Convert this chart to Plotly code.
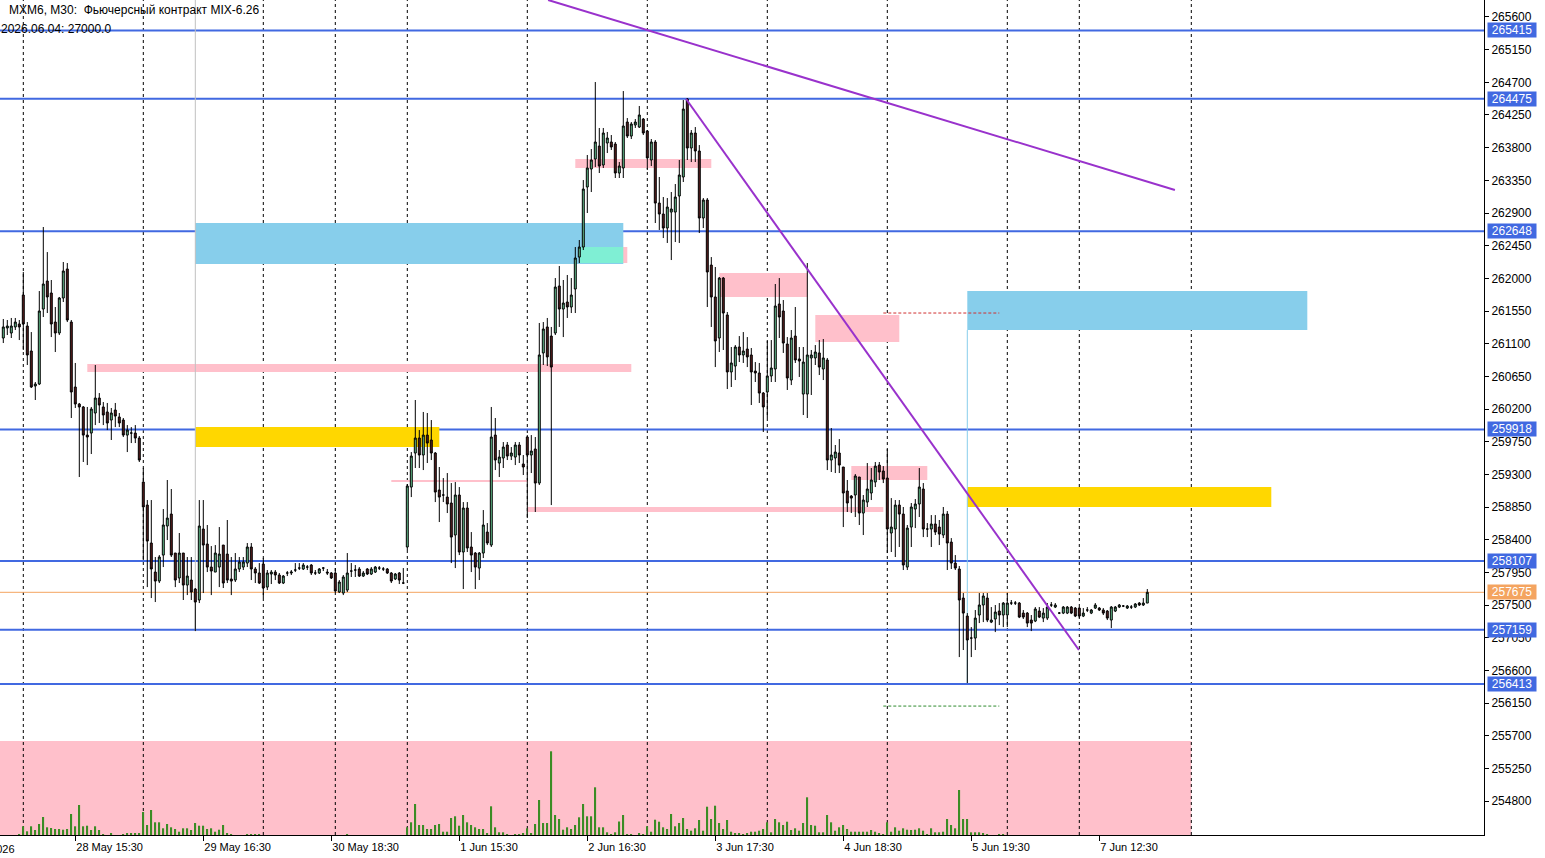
import plotly.graph_objects as go

# ---------------- data (MXM6, M30) ----------------
opens = [261178,261316,261247,261330,261371,261770,261343,260999,260517,260544,
261577,261963,261798,261398,261247,261729,262129,261398,260503,260269,
260228,259841,259869,260145,260351,260228,260159,260048,260186,260090,
260048,259841,259869,259869,259800,259194,258877,258354,257954,257830,
258188,258588,258753,258216,257872,258216,257775,257844,257720,257569,
258547,258340,258023,257954,258023,258326,258202,257858,257844,257996,
258023,258078,258299,257996,257941,258064,257747,257927,257954,257913,
257803,257941,257941,257982,258009,257996,258023,258051,257941,257941,
258009,257954,257941,257941,257679,257665,257706,257968,257982,257996,
257899,257996,257927,257954,258009,257996,257996,257941,257858,257941,
257803,258299,259125,259594,259800,259566,259841,259773,259594,259084,
259015,258987,258905,258464,259015,258230,258836,258299,258216,258009,
258216,258505,258326,259841,259456,259525,259704,259552,259538,259704,
259442,259814,259566,259649,259180,260972,261330,261205,261247,261894,
261577,261674,261605,261853,262293,262431,263258,263506,263644,263822,
263561,263864,263878,263850,263451,263520,264153,263960,264112,264084,
264194,264029,263630,263878,263037,262886,262693,262913,262913,263134,
263396,264470,263795,264002,263754,262831,263079,262183,261743,261178,
262004,261495,260710,260792,261054,260944,261026,260944,260723,260696,
260420,260434,260655,260751,261646,261550,261095,260599,261205,260889,
260406,260406,260903,260903,260972,260751,260875,259497,259525,259594,
259401,259070,259001,259015,259263,258767,258918,259043,259194,259428,
259346,259249,258492,258547,258877,258753,258023,258574,258822,258891,
259098,258547,258547,258616,258574,258464,258753,258367,258078,257996,
257596,257348,257045,257045,257362,257500,257596,257265,257307,257417,
257362,257362,257527,257527,257527,257389,257389,257293,257279,257417,
257320,257320,257500,257472,257389,257389,257389,257472,257458,257458,
257348,257431,257389,257458,257458,257431,257417,257293,257417,257472,
257486,257458,257472,257472,257527,257500,257527]

highs = [261440,261426,261454,261454,261426,262087,261398,261260,260572,261825,
262707,262362,261977,261605,261743,262225,262211,261426,260834,260283,
260241,260228,260228,260806,260420,260296,260283,260214,260283,260145,
260076,259979,259951,259979,259828,259387,258946,258946,258161,258188,
258822,259222,259098,258216,258492,258216,258161,258161,257734,258946,
258946,258602,258312,258326,258574,258326,258671,258161,258216,258161,
258161,258354,258354,258023,258078,258147,257982,257982,257982,257941,
257913,257968,257982,258078,258078,258078,258051,258064,257982,258009,
258023,257996,257954,258009,257844,257913,258216,258078,258051,258023,
257968,258009,258023,258037,258037,258023,258009,257954,257941,257954,
258009,259167,259607,260324,259910,260159,260145,260048,259607,259401,
259249,259318,259180,259194,259125,258918,258918,258505,258230,258230,
258808,258629,260228,260076,259635,259745,259745,259676,259745,259745,
259566,259841,259841,259814,261385,261398,261454,261330,262004,262170,
261977,262046,262004,262431,262528,263354,263699,263781,264704,264071,
264071,264016,263974,263878,263602,264580,264208,264153,264194,264374,
264208,264043,263919,263905,263396,263120,263106,263189,263299,263630,
264456,264484,264043,264084,263836,263106,263106,262293,262156,262018,
262018,261536,261054,261081,261205,261260,261191,261040,260847,260834,
260434,261137,261150,261922,262004,261701,261191,261288,261605,261054,
261054,262211,261013,261081,261150,261164,260903,259938,259704,259786,
259401,259222,259015,259304,259263,259015,259456,259387,259470,259470,
259414,259649,258973,258946,258946,258850,258602,258905,258960,259387,
259180,258629,258739,258739,258671,258850,258794,258422,258188,258037,
257665,257389,257196,257431,257665,257665,257665,257472,257500,257527,
257541,257665,257569,257555,257541,257431,257403,257362,257472,257472,
257458,257527,257541,257527,257403,257486,257486,257486,257472,257472,
257458,257472,257445,257527,257472,257458,257431,257486,257486,257514,
257500,257500,257500,257527,257541,257596,257720]

lows = [261109,261219,261178,261288,261150,261013,260806,260489,260324,260530,
261467,261522,261191,260985,261219,261674,261398,260076,260214,259263,
259470,259428,259580,259979,260007,259979,259910,259773,259951,259951,
259814,259607,259731,259731,259470,258120,257747,257596,257541,257803,
258023,258395,258161,257747,257803,257569,257637,257569,257141,257527,
257665,257954,257637,257954,257747,257734,257803,257637,257817,257954,
257982,258023,257844,257803,257789,257596,257706,257789,257844,257789,
257789,257899,257913,257954,257982,257982,257982,257913,257913,257927,
257968,257913,257858,257665,257665,257637,257679,257886,257886,257886,
257886,257913,257913,257941,257982,257968,257927,257803,257844,257789,
257789,258257,258987,259387,259387,259359,259456,259497,258918,258643,
258918,258767,258078,258009,258188,257720,258230,257954,257720,257844,
258147,258326,258299,259359,259263,259387,259497,259497,259428,259456,
259291,258698,259318,258781,259153,260806,260792,258877,261219,261330,
261191,261454,261522,261522,262211,262390,262900,263189,263534,263451,
263520,263726,263768,263382,263382,263382,263933,263919,264071,264071,
263974,263492,263547,262762,262666,262555,262487,262252,262500,262487,
263327,263630,263602,263602,262624,262693,261605,261330,260778,260985,
261013,260475,260503,260599,260847,260834,260778,260255,260572,260283,
259883,260076,260572,260572,261178,260972,260462,260530,260834,260641,
260117,260076,260393,260806,260668,260599,259359,259332,259318,259318,
258574,258781,258767,258712,258602,258464,258850,258946,259125,259222,
259180,258216,258230,258161,258299,257982,257982,258299,258560,258712,
258436,258436,258299,258464,258326,258422,257982,257996,257982,256783,
256880,256425,256783,256880,257251,257265,257265,257251,257127,257224,
257196,257196,257500,257500,257320,257307,257196,257141,257265,257320,
257265,257293,257472,257458,257375,257375,257375,257375,257334,257320,
257334,257403,257375,257445,257417,257362,257293,257182,257403,257458,
257472,257445,257445,257458,257486,257486,257527]

closes = [261330,261343,261343,261398,261330,261371,260944,260503,260544,261550,
261922,261743,261371,261247,261729,262101,261426,260434,260269,260228,
259841,259814,260200,260351,260255,260117,260007,260145,260103,260007,
259841,259910,259869,259800,259497,258850,258381,257996,257830,258161,
258602,258698,258188,257844,258216,257775,257899,257679,257541,258588,
258326,258023,257968,258216,258202,257803,257844,257830,257996,258092,
258092,258299,257996,257941,257803,257734,257941,257954,257913,257803,
257899,257941,257954,257982,258009,258051,258023,257941,257941,257996,
258009,257941,257872,257693,257817,257886,257941,257968,257982,257899,
257941,257927,257996,258023,258009,257996,257941,257830,257927,257844,
257803,259139,259552,259800,259566,259841,259731,259594,259056,258987,
259015,258891,258436,259015,258230,258836,258285,258188,258023,258216,
258602,258354,259814,259497,259538,259676,259552,259594,259704,259566,
259401,259566,259621,259180,260944,261302,260917,260778,261880,261577,
261660,261605,261770,262280,262431,263230,263520,263630,263878,263547,
264002,263933,263809,263451,263547,264098,263960,264126,264153,264250,
264002,263658,263878,263037,262886,262693,262982,262955,263120,263423,
264332,263795,264002,263754,262831,263079,262087,261743,261137,262004,
261522,260710,260834,261054,260944,260999,260917,260710,260696,260420,
260228,260655,260765,261619,261467,261109,260627,261178,260875,260861,
260847,260944,260944,260985,260778,260903,259497,259566,259607,259428,
259043,258905,258973,259277,258767,258946,259098,259222,259414,259332,
259235,258547,258574,258877,258753,258051,258560,258850,258891,259125,
258547,258547,258616,258505,258478,258753,258354,258078,258009,257569,
257389,257018,257045,257320,257500,257624,257293,257293,257403,257362,
257527,257527,257527,257527,257334,257334,257251,257251,257445,257334,
257389,257472,257500,257500,257389,257472,257472,257389,257348,257348,
257389,257431,257431,257500,257431,257389,257320,257472,257472,257500,
257486,257486,257472,257514,257500,257527,257675]

volumes = [0,0,0,0,10,87,37,87,50,110,
180,77,70,60,60,53,60,210,87,300,
87,93,50,87,50,10,0,17,0,0,
10,17,13,20,20,230,100,250,127,127,
67,110,77,60,33,67,67,50,120,93,
93,60,67,33,53,100,17,10,0,0,
0,10,10,10,10,0,0,0,0,0,
0,0,0,0,0,0,0,0,0,0,
0,0,0,0,0,0,10,0,0,0,
0,0,0,0,0,0,0,0,0,0,
0,77,127,310,100,100,60,60,100,110,
33,33,170,187,93,200,127,100,77,60,
60,17,287,77,27,27,5,0,5,10,
17,67,17,110,350,120,120,837,200,160,
53,77,60,100,177,310,187,187,477,77,
77,27,10,27,135,200,10,10,0,17,
10,87,33,153,133,77,60,210,87,120,
170,60,43,67,150,43,283,160,293,120,
60,150,33,17,17,10,17,33,33,43,
60,127,27,160,127,100,133,50,67,43,
120,377,100,93,27,27,200,127,43,77,
100,60,33,33,33,33,33,50,33,17,
10,127,33,77,43,67,53,50,53,67,
43,10,67,27,27,33,160,100,67,450,
160,160,27,27,27,17,5,0,0,5,5]

# time axis labels (bar index -> text)
label_bars = [18, 50, 82, 114, 146, 178, 210, 242, 274]
label_texts = ["28 May 15:30", "29 May 16:30", "30 May 18:30", "1 Jun 15:30",
               "2 Jun 16:30", "3 Jun 17:30", "4 Jun 18:30", "5 Jun 19:30", "7 Jun 12:30"]
first_label = "27 May 2026"

# day separators (bar index)
separators = [5, 35, 65, 83, 101, 131, 161, 191, 221, 251, 269, 297]

# price scale
price_ticks = list(range(254800, 265601, 450))
levels = [265415, 264475, 262648, 259918, 258107, 257159, 256413]
current_price = 257675

# zones: (bar from, bar to, price low, price high, colour)
zones = [
    (48, 155, 262197, 262762, "#87CEEB"),
    (144, 156, 262211, 262431, "#FFC0CB"),
    (144, 155, 262211, 262431, "#7FEFD4"),
    (143, 177, 263520, 263644, "#FFC0CB"),
    (21, 157, 260710, 260820, "#FFC0CB"),
    (48, 109, 259676, 259952, "#FFD700"),
    (97, 131, 259194, 259222, "#FFC0CB"),
    (131, 220, 258781, 258850, "#FFC0CB"),
    (179, 201, 261743, 262073, "#FFC0CB"),
    (203, 224, 261123, 261495, "#FFC0CB"),
    (212, 231, 259222, 259415, "#FFC0CB"),
    (241, 326, 261288, 261825, "#87CEEB"),
    (241, 317, 258850, 259125, "#FFD700"),
]
# trend lines: (bar0, price0, bar1, price1)
trends = [(136.2, 265834, 292.9, 263217), (170.7, 264470, 268.9, 256880)]

FONT = "Liberation Sans"
X_RANGE = [-0.825, 370.175]
Y_RANGE = [254332, 265834]

fig = go.Figure()
fig.add_trace(go.Bar(x=list(range(len(volumes))), y=volumes, yaxis="y2", width=0.4,
                     marker=dict(color="#3b8c25", line=dict(width=0)), hoverinfo="skip"))
fig.add_trace(go.Candlestick(
    x=list(range(len(opens))), open=opens, high=highs, low=lows, close=closes,
    increasing=dict(fillcolor="#66C28F", line=dict(color="#000000", width=1)),
    decreasing=dict(fillcolor="#5A1E1E", line=dict(color="#000000", width=1)),
    whiskerwidth=0, hoverinfo="skip"))

shapes = []
# bottom pink volume zone
shapes.append(dict(type="rect", xref="x", yref="paper", x0=X_RANGE[0], x1=297,
                   y0=0, y1=94 / 835, fillcolor="#FFC0CB", line=dict(width=0), layer="below"))
for x0, x1, y0, y1, c in zones:
    shapes.append(dict(type="rect", xref="x", yref="y", x0=x0, x1=x1, y0=y0, y1=y1,
                       fillcolor=c, line=dict(width=0), layer="below"))
for s in separators:
    shapes.append(dict(type="line", xref="x", yref="paper", x0=s, x1=s, y0=0, y1=1,
                       line=dict(color="black", width=1, dash="3px,3px"), layer="below"))
shapes.append(dict(type="line", xref="x", yref="y", x0=48, x1=48, y0=257141, y1=Y_RANGE[1],
                   line=dict(color="#C0C0C0", width=1), layer="below"))
shapes.append(dict(type="line", xref="x", yref="y", x0=241, x1=241, y0=256425, y1=261288,
                   line=dict(color="#87CEEB", width=1), layer="below"))
shapes.append(dict(type="line", xref="x", yref="y", x0=220, x1=249, y0=261522, y1=261522,
                   line=dict(color="#D03030", width=1, dash="3px,2px"), layer="below"))
shapes.append(dict(type="line", xref="x", yref="y", x0=220, x1=249, y0=256108, y1=256108,
                   line=dict(color="#2E8B2E", width=1, dash="3px,2px"), layer="below"))
for lv in levels:
    shapes.append(dict(type="line", xref="paper", yref="y", x0=0, x1=1, y0=lv, y1=lv,
                       line=dict(color="#4169E1", width=2), layer="below"))
shapes.append(dict(type="line", xref="paper", yref="y", x0=0, x1=1, y0=current_price, y1=current_price,
                   line=dict(color="#F4A460", width=1), layer="below"))
for b0, p0, b1, p1 in trends:
    shapes.append(dict(type="line", xref="x", yref="y", x0=b0, x1=b1, y0=p0, y1=p1,
                       line=dict(color="#9932CC", width=2), layer="above"))

annotations = []
for lv in levels:
    annotations.append(dict(x=1, xref="paper", y=lv, yref="y", xanchor="left", yanchor="middle",
                            xshift=3, text=str(lv), showarrow=False, bgcolor="#4169E1",
                            width=46, height=12, borderpad=1,
                            font=dict(family=FONT, size=12, color="white")))
annotations.append(dict(x=1, xref="paper", y=current_price, yref="y", xanchor="left", yanchor="middle",
                        xshift=3, text=str(current_price), showarrow=False, bgcolor="#F4A460",
                        width=46, height=12, borderpad=1,
                        font=dict(family=FONT, size=12, color="white")))
annotations.append(dict(x=7 / 1484, xref="paper", y=1 - 10 / 835, yref="paper", xanchor="left",
                        yanchor="middle", showarrow=False,
                        text="MXM6, M30:\u00a0 Фьючерсный контракт MIX-6.26",
                        font=dict(family=FONT, size=12, color="black")))
annotations.append(dict(x=-1 / 1484, xref="paper", y=1 - 29 / 835, yref="paper", xanchor="left",
                        yanchor="middle", showarrow=False, text="2026.06.04: 27000.0",
                        font=dict(family=FONT, size=12, color="black")))
annotations.append(dict(x=17 / 1484, xref="paper", y=0, yref="paper", xanchor="right",
                        yanchor="top", yshift=-6, showarrow=False, text=first_label,
                        font=dict(family=FONT, size=11, color="black")))

fig.update_layout(
    width=1545, height=858, margin=dict(l=0, r=61, t=0, b=23),
    paper_bgcolor="white", plot_bgcolor="white", showlegend=False,
    font=dict(family=FONT, size=12, color="black"),
    xaxis=dict(range=X_RANGE, showgrid=False, zeroline=False, showline=True,
               linecolor="black", linewidth=1, ticks="outside", ticklen=5, tickcolor="black",
               tickvals=label_bars, ticktext=label_texts, ticklabelposition="outside right",
               ticklabelstandoff=2,
               tickfont=dict(family=FONT, size=11), rangeslider=dict(visible=False),
               fixedrange=True),
    yaxis=dict(range=Y_RANGE, side="right", showgrid=False, zeroline=False, showline=True,
               linecolor="black", linewidth=1, ticks="outside", ticklen=4, tickcolor="black",
               tickvals=price_ticks, ticktext=[str(v) for v in price_ticks],
               tickfont=dict(family=FONT, size=12)),
    yaxis2=dict(overlaying="y", range=[0, 8350], visible=False),
    shapes=shapes, annotations=annotations,
)

fig.write_html("out.html")
